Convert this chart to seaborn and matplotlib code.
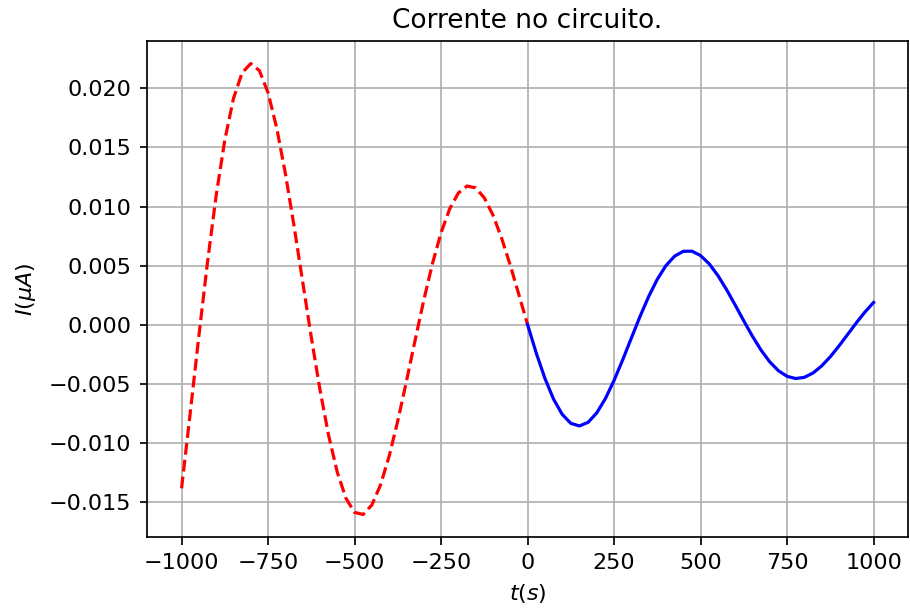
import matplotlib
matplotlib.use("Agg")
import matplotlib.pyplot as plt
import seaborn as sns
import numpy as np
import pandas as pd

# time samples (s)
t_neg = [-1000, -975, -950, -925, -900, -875, -850, -825, -800, -775, -750, -725, -700,
         -675, -650, -625, -600, -575, -550, -525, -500, -475, -450, -425, -400, -375,
         -350, -325, -300, -275, -250, -225, -200, -175, -150, -125, -100, -75, -50, -25, 0]
i_neg = [-0.013863, -0.007484, -0.000962, 0.005301, 0.010938, 0.015636, 0.019150,
         0.021331, 0.022110, 0.021508, 0.019629, 0.016648, 0.012800, 0.008363, 0.003632,
         -0.001087, -0.005510, -0.009383, -0.012497, -0.014699, -0.015902, -0.016077,
         -0.015269, -0.013571, -0.011132, -0.008136, -0.004791, -0.001319, 0.002065,
         0.005158, 0.007787, 0.009814, 0.011148, 0.011736, 0.011583, 0.010735, 0.009277,
         0.007324, 0.005021, 0.002526, 0.0]

t_pos = [0, 25, 50, 75, 100, 125, 150, 175, 200, 225, 250, 275, 300, 325, 350, 375, 400,
         425, 450, 475, 500, 525, 550, 575, 600, 625, 650, 675, 700, 725, 750, 775, 800,
         825, 850, 875, 900, 925, 950, 975, 1000]
i_pos = [0.0, -0.002403, -0.004543, -0.006304, -0.007595, -0.008361, -0.008581, -0.008271,
         -0.007472, -0.006258, -0.004723, -0.002976, -0.001133, 0.000689, 0.002379,
         0.003843, 0.005002, 0.005800, 0.006208, 0.006218, 0.005850, 0.005144, 0.004159,
         0.002971, 0.001660, 0.000312, -0.000990, -0.002168, -0.003156, -0.003905,
         -0.004380, -0.004565, -0.004464, -0.004096, -0.003498, -0.002717, -0.001808,
         -0.000833, 0.000144, 0.001065, 0.001876]

x_ticks = [-1000, -750, -500, -250, 0, 250, 500, 750, 1000]

fig = plt.figure(figsize=(9.1, 6.09), dpi=100)
ax = fig.add_axes([0.1615, 0.1182, 0.8365, 0.8145])

sns.lineplot(x=t_neg, y=i_neg, ax=ax, color="red", linestyle="--", linewidth=2.3,
             sort=False, estimator=None)
sns.lineplot(x=t_pos, y=i_pos, ax=ax, color="blue", linestyle="-", linewidth=2.3,
             sort=False, estimator=None)

ax.set_xticks(x_ticks)
ax.grid(True, color="#b0b0b0", linewidth=1.24)
ax.set_axisbelow(True)
ax.tick_params(labelsize=16, width=1.24, length=5.4, pad=5.8)
for s in ax.spines.values():
    s.set_linewidth(1.24)
ax.set_title("Corrente no circuito.", fontsize=19, pad=9.3)
ax.set_xlabel("$t(s)$", fontsize=16, labelpad=6.5)
ax.set_ylabel("$I(\\mu A)$", fontsize=16, labelpad=8)

fig.savefig("out.png", dpi=100)
